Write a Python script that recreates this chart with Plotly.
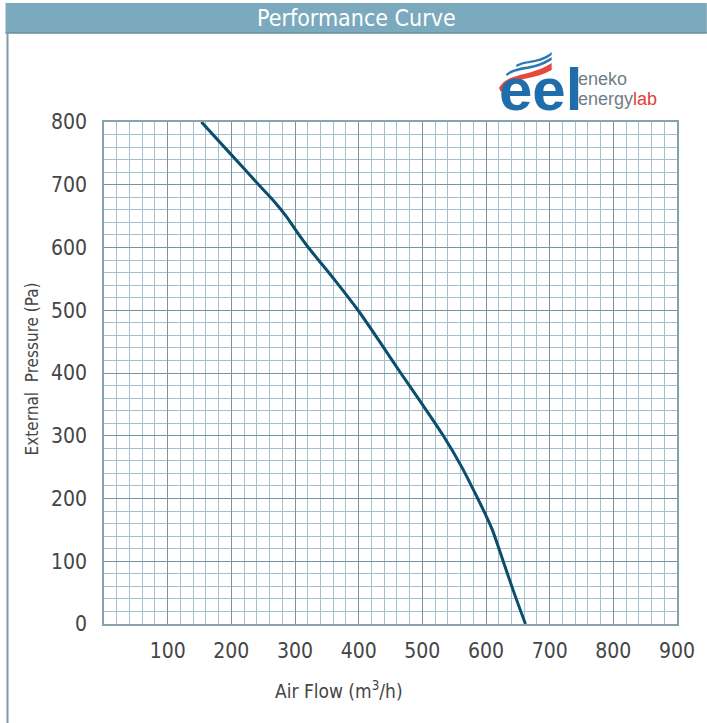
import plotly.graph_objects as go

# ---- data ----
FLOW = [153, 198, 243, 266, 286, 303, 321, 341, 361, 399, 433, 466, 500, 533, 562, 587, 599, 610, 627, 644, 662]
PRESSURE = [800, 750, 700, 675, 650, 625, 600, 575, 550, 500, 450, 400, 350, 300, 250, 200, 175, 150, 100, 50, 0]
X_TICKS = [100, 200, 300, 400, 500, 600, 700, 800, 900]
Y_TICKS = [0, 100, 200, 300, 400, 500, 600, 700, 800]
X_RANGE = [0, 900]
Y_RANGE = [0, 800]
GRID_STEP = 20
TITLE = "Performance Curve"
X_TITLE = "Air Flow (m<sup>3</sup>/h)"
Y_TITLE = "External  Pressure (Pa)"

W, H = 707, 723
ML, MR, MT, MB = 104, 27, 122, 99
PW = W - ML - MR
PH = H - MT - MB

NARROW = "Liberation Sans Narrow, DejaVu Sans Condensed, Arial Narrow, sans-serif"


def px(x):
    return (x - ML) / PW


def py(y):
    return (H - MB - y) / PH


def P(x, y):
    return f"{px(x):.5f},{py(y):.5f}"


fig = go.Figure()
fig.add_trace(go.Scatter(
    x=FLOW, y=PRESSURE, mode="lines",
    line=dict(color="#0b4d6d", width=3, shape="spline", smoothing=0.8),
    hoverinfo="skip", showlegend=False,
))

axis_common = dict(
    showgrid=True, gridcolor="#7794a0", gridwidth=1,
    showline=True, linecolor="#86a2ad", linewidth=1.5, mirror=True,
    zeroline=False, ticks="", tickmode="array",
    tickfont=dict(family=NARROW, size=21, color="#454545"),
    minor=dict(tickmode="linear", tick0=0, dtick=GRID_STEP, showgrid=True,
               gridcolor="#a2bfcc", gridwidth=1, ticks=""),
)

fig.update_xaxes(range=X_RANGE, tickvals=X_TICKS, ticklabelstandoff=7, **axis_common)
fig.update_yaxes(range=Y_RANGE, tickvals=Y_TICKS, ticklabelstandoff=11, **axis_common)

shapes = [
    # title bar
    dict(type="rect", xref="paper", yref="paper", x0=px(5), x1=px(710), y0=py(33), y1=py(3),
         fillcolor="#7ba9bd", line=dict(width=0), layer="above"),
    dict(type="line", xref="paper", yref="paper", x0=px(5), x1=px(710), y0=py(33), y1=py(33),
         line=dict(color="#6a8f9f", width=1.5)),
    # left frame line
    dict(type="line", xref="paper", yref="paper", x0=px(7), x1=px(7), y0=py(33), y1=py(730),
         line=dict(color="#7d9aa5", width=2)),
    # logo waves
    dict(type="path", xref="paper", yref="paper",
         path=f"M{P(501,88)} C{P(510,72)} {P(530,78)} {P(554,63)} L{P(554,70)} C{P(532,82)} {P(514,76)} {P(503,92)} Z",
         fillcolor="#e8473c", line=dict(width=0)),
    dict(type="path", xref="paper", yref="paper",
         path=f"M{P(508,74)} C{P(520,64)} {P(535,70)} {P(554,57)} L{P(554,60)} C{P(536,72)} {P(521,67)} {P(509,76)} Z",
         fillcolor="#2a78b5", line=dict(width=0)),
    dict(type="path", xref="paper", yref="paper",
         path=f"M{P(518,65)} C{P(528,59)} {P(540,63)} {P(554,52)} L{P(554,55)} C{P(541,65)} {P(529,61)} {P(519,67)} Z",
         fillcolor="#2a78b5", line=dict(width=0)),
]

annotations = [
    dict(text=TITLE, xref="paper", yref="paper", x=px(358), y=py(18), xanchor="center", yanchor="middle",
         showarrow=False, font=dict(family=NARROW, size=23, color="white")),
    dict(text=X_TITLE, xref="paper", yref="paper", x=px(340), y=py(690), xanchor="center", yanchor="middle",
         showarrow=False, font=dict(family=NARROW, size=19, color="#454545")),
    dict(text=Y_TITLE, xref="paper", yref="paper", x=px(32), y=py(369), xanchor="center", yanchor="middle",
         textangle=-90, showarrow=False, font=dict(family=NARROW, size=17, color="#454545")),
    dict(text="<b>eel</b>", xref="paper", yref="paper", x=px(499), y=py(89), xanchor="left", yanchor="middle",
         showarrow=False, font=dict(family="Liberation Sans, Arial, sans-serif", size=60, color="#1f6dab")),
    dict(text="eneko", xref="paper", yref="paper", x=px(578), y=py(79), xanchor="left", yanchor="middle",
         showarrow=False, font=dict(family="Liberation Sans, Arial, sans-serif", size=18, color="#6e7d87")),
    dict(text="energy<span style='color:#e2413a'>lab</span>", xref="paper", yref="paper", x=px(578), y=py(99),
         xanchor="left", yanchor="middle",
         showarrow=False, font=dict(family="Liberation Sans, Arial, sans-serif", size=18, color="#6e7d87")),
]

fig.update_layout(
    width=W, height=H, autosize=False,
    margin=dict(l=ML, r=MR, t=MT, b=MB, pad=0),
    paper_bgcolor="white", plot_bgcolor="white",
    shapes=shapes, annotations=annotations,
    showlegend=False,
)

fig.write_html(
    "out.html",
    config={"displayModeBar": False},
    post_script="document.body.style.margin='0';document.body.style.overflow='hidden';",
)
